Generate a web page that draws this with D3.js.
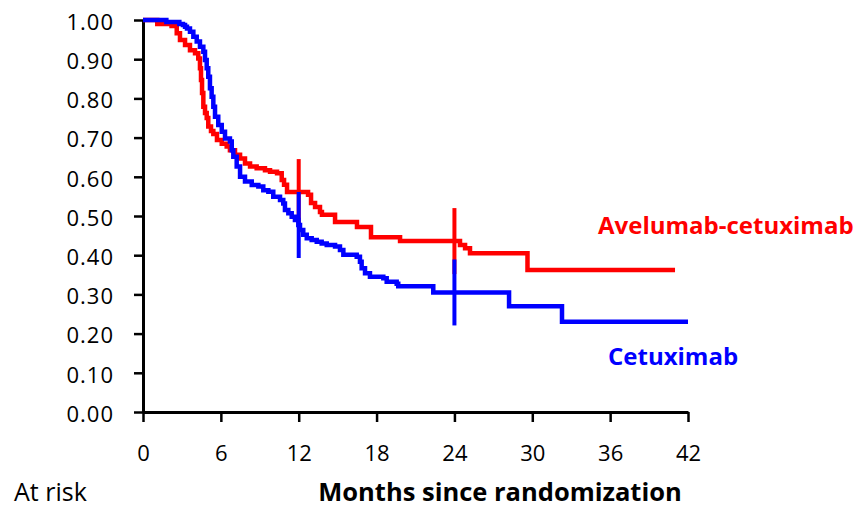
<!DOCTYPE html>
<html>
<head>
<meta charset="utf-8">
<script src="https://cdn.jsdelivr.net/npm/d3@7"></script>
<style>
  body { margin: 0; background: #fff; }
  svg { display: block; }
  .tick text { font-family: "Open Sans", sans-serif; fill: #000; }
</style>
</head>
<body>
<svg id="chart" width="863" height="509"></svg>
<script>
// Axis ticks
const monthTicks = [0, 6, 12, 18, 24, 30, 36, 42];
const survivalTicks = [0, 0.1, 0.2, 0.3, 0.4, 0.5, 0.6, 0.7, 0.8, 0.9, 1.0];

// Kaplan-Meier steps: [month, survival after the drop]
const aveSteps = [
  [0, 1.0], [1.1, 0.990], [2.2, 0.985], [2.6, 0.966], [2.85, 0.949], [3.24, 0.936],
  [3.62, 0.923], [4.01, 0.915], [4.26, 0.902], [4.39, 0.877], [4.47, 0.847],
  [4.55, 0.814], [4.65, 0.779], [4.78, 0.763], [4.91, 0.750], [5.03, 0.728],
  [5.24, 0.717], [5.42, 0.709], [5.70, 0.694], [6.07, 0.684], [6.45, 0.677],
  [6.70, 0.668], [7.09, 0.656], [7.48, 0.647], [7.86, 0.634], [8.25, 0.626],
  [8.76, 0.622], [9.40, 0.617], [9.79, 0.613], [10.33, 0.609], [10.69, 0.592],
  [10.87, 0.580], [11.1, 0.561], [12.72, 0.554], [12.95, 0.533], [13.26, 0.523],
  [13.64, 0.510], [13.79, 0.503], [14.80, 0.485], [16.49, 0.472], [17.57, 0.446],
  [19.81, 0.436], [24.43, 0.426], [24.82, 0.418], [25.2, 0.405], [29.63, 0.362]
];
const aveLastFollowUp = 41.0;

const cetSteps = [
  [0, 1.0], [1.8, 0.995], [2.8, 0.990], [3.08, 0.987], [3.24, 0.983], [3.39, 0.978],
  [3.62, 0.970], [3.88, 0.957], [4.14, 0.945], [4.39, 0.932], [4.65, 0.919],
  [4.78, 0.898], [4.91, 0.877], [5.03, 0.855], [5.16, 0.826], [5.29, 0.804],
  [5.42, 0.779], [5.55, 0.753], [5.80, 0.732], [6.07, 0.715], [6.32, 0.698],
  [6.70, 0.690], [6.84, 0.668], [6.96, 0.651], [7.22, 0.626], [7.48, 0.600],
  [7.86, 0.588], [8.38, 0.579], [8.89, 0.575], [9.27, 0.566], [9.66, 0.562],
  [10.04, 0.549], [10.56, 0.541], [10.81, 0.532], [10.94, 0.515], [11.2, 0.507],
  [11.46, 0.498], [11.71, 0.490], [11.97, 0.477], [12.1, 0.464], [12.35, 0.452],
  [12.62, 0.443], [13.0, 0.439], [13.39, 0.434], [13.77, 0.430], [14.16, 0.426],
  [14.80, 0.422], [15.18, 0.413], [15.44, 0.401], [16.47, 0.396], [16.72, 0.383],
  [16.85, 0.367], [17.11, 0.354], [17.49, 0.345], [18.52, 0.341], [18.78, 0.332],
  [19.55, 0.327], [19.67, 0.321], [22.37, 0.305], [28.21, 0.270], [32.29, 0.230]
];
const cetLastFollowUp = 42.0;

// Landmark marks drawn across each curve
const landmarkMonths = [12, 24];

const seriesNames = ["Avelumab-cetuximab", "Cetuximab"];
const seriesColors = ["#ff0000", "#0000ff"];

const svg = d3.select("#chart");
const x = d3.scaleLinear().domain([0, 42]).range([143, 688]);
const y = d3.scaleLinear().domain([0, 1]).range([412, 20]);

// Axes
const yAxis = d3.axisLeft(y)
  .tickValues(survivalTicks)
  .tickFormat(d3.format(".2f"))
  .tickSize(9)
  .tickSizeOuter(0)
  .tickPadding(20);
const gy = svg.append("g").attr("transform", `translate(${x(0)},0)`).call(yAxis);
gy.select(".domain").attr("stroke", "#000").attr("stroke-width", 3);
gy.selectAll(".tick line").attr("stroke", "#000").attr("stroke-width", 2.5);
gy.selectAll(".tick text").attr("font-size", 22).attr("letter-spacing", 1).attr("dy", "0.42em");

const xAxis = d3.axisBottom(x)
  .tickValues(monthTicks)
  .tickSize(10)
  .tickSizeOuter(0)
  .tickPadding(23);
const gx = svg.append("g").attr("transform", `translate(0,${y(0)})`).call(xAxis);
gx.select(".domain").attr("stroke", "#000").attr("stroke-width", 3);
gx.selectAll(".tick line").attr("stroke", "#000").attr("stroke-width", 2.5);
gx.selectAll(".tick text").attr("font-size", 22);

// Survival curves
const stepLine = d3.line()
  .x(d => x(d[0]))
  .y(d => y(d[1]))
  .curve(d3.curveStepAfter);

const series = [
  { steps: aveSteps, end: aveLastFollowUp },
  { steps: cetSteps, end: cetLastFollowUp }
];

function survivalAt(steps, t) {
  let s = steps[0][1];
  for (const [ti, si] of steps) { if (ti <= t) s = si; }
  return s;
}

series.forEach((sr, i) => {
  const pts = sr.steps.concat([[sr.end, sr.steps[sr.steps.length - 1][1]]]);
  svg.append("path")
    .datum(pts)
    .attr("fill", "none")
    .attr("stroke", seriesColors[i])
    .attr("stroke-width", 4.5)
    .attr("stroke-linejoin", "miter")
    .attr("d", stepLine);

  svg.append("g").selectAll("line")
    .data(landmarkMonths)
    .join("line")
    .attr("x1", d => x(d)).attr("x2", d => x(d))
    .attr("y1", d => y(survivalAt(sr.steps, d)) - 33)
    .attr("y2", d => y(survivalAt(sr.steps, d)) + 33)
    .attr("stroke", seriesColors[i])
    .attr("stroke-width", 4);
});

// Series labels
svg.append("text")
  .attr("x", 598).attr("y", 234)
  .attr("font-family", "'Open Sans', sans-serif")
  .attr("font-weight", 700).attr("font-size", 24)
  .attr("fill", seriesColors[0])
  .text(seriesNames[0]);
svg.append("text")
  .attr("x", 608).attr("y", 365)
  .attr("font-family", "'Open Sans', sans-serif")
  .attr("font-weight", 700).attr("font-size", 24)
  .attr("fill", seriesColors[1])
  .text(seriesNames[1]);

// Bottom texts
svg.append("text")
  .attr("x", 500).attr("y", 501)
  .attr("text-anchor", "middle")
  .attr("font-family", "'Open Sans', sans-serif")
  .attr("font-weight", 700).attr("font-size", 25.5)
  .attr("fill", "#000")
  .text("Months since randomization");
svg.append("text")
  .attr("x", 14).attr("y", 501)
  .attr("font-family", "'Open Sans', sans-serif")
  .attr("font-size", 25)
  .attr("fill", "#000")
  .text("At risk");
</script>
</body>
</html>
